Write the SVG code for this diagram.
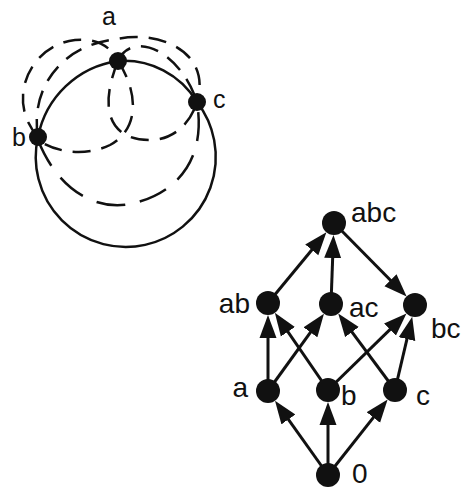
<svg xmlns="http://www.w3.org/2000/svg" width="467" height="488" viewBox="0 0 467 488">
<defs>
<style>
.bg{fill:#fff}
.solid{fill:none;stroke:#111;stroke-width:2.5}
.dash{fill:none;stroke:#111;stroke-width:2.5;stroke-dasharray:18 11}
.dashL{fill:none;stroke:#111;stroke-width:2.5;stroke-dasharray:29 15}
.dot{fill:#111}
.edge{fill:none;stroke:#111;stroke-width:3}
.lbl{font-family:"Liberation Sans",Arial,sans-serif;fill:#111}
.l1{font-size:25px}
.l2{font-size:28px}
</style>
<marker id="arr" markerUnits="userSpaceOnUse" markerWidth="24" markerHeight="18" refX="12" refY="8.5" orient="auto" viewBox="0 0 24 17">
<path d="M0,0 L23,8.5 L0,17 Z" fill="#111"/>
</marker>
</defs>
<rect class="bg" x="0" y="0" width="467" height="488"/>

<!-- Left figure -->
<g id="left-curves">
<path class="solid" d="M38,137 A95,95 0 0 1 118,61"/>
<path class="solid" d="M118,61 A85,85 0 0 1 197,102"/>
<path class="solid" d="M197,102 A90,90 0 1 1 38,137"/>
<path class="dash" d="M38,137 C5,100 30,45 75,40 C95,38 110,45 118,61"/>
<path class="dash" d="M38,137 C30,90 60,45 117,39 C160,30 212,52 197,102"/>
<path class="dash" d="M118,61 C132,30 180,50 197,102"/>
<path class="dash" d="M118,61 C98,110 110,140 150,140 C172,140 190,125 197,102"/>
<path class="dash" d="M118,61 C140,95 138,130 110,145 C90,155 60,155 38,140"/>
<path class="dashL" d="M38,140 C60,195 100,210 130,204 C165,197 208,170 197,102"/>
</g>
<g id="left-a"><circle class="dot" cx="118" cy="61" r="9"/><text class="lbl l1" x="102" y="25">a</text></g>
<g id="left-b"><circle class="dot" cx="38" cy="137" r="9"/><text class="lbl l1" x="26" y="146" text-anchor="end">b</text></g>
<g id="left-c"><circle class="dot" cx="197" cy="102" r="9"/><text class="lbl l1" x="213" y="108">c</text></g>

<!-- Lattice -->
<g id="connectors" class="edge" marker-end="url(#arr)">
<line x1="268" y1="391" x2="268" y2="326"/>
<line x1="268" y1="391" x2="317.5" y2="322.6"/>
<line x1="328" y1="390" x2="281.1" y2="321.9"/>
<line x1="328" y1="390" x2="398.6" y2="321.1"/>
<line x1="395" y1="390" x2="344.8" y2="322.4"/>
<line x1="395" y1="390" x2="409.7" y2="327.4"/>
<line x1="328" y1="475" x2="281.4" y2="409.7"/>
<line x1="328" y1="475" x2="328" y2="413"/>
<line x1="328" y1="475" x2="380.8" y2="408.1"/>
<line x1="268" y1="303" x2="319.4" y2="240.7"/>
<line x1="331" y1="304" x2="333.1" y2="246"/>
<line x1="334" y1="223" x2="398.9" y2="288.7"/>
</g>
<g id="n-abc"><circle class="dot" cx="334" cy="223" r="12"/><text class="lbl l2" x="351" y="222">abc</text></g>
<g id="n-ab"><circle class="dot" cx="268" cy="303" r="12"/><text class="lbl l2" x="250" y="313" text-anchor="end">ab</text></g>
<g id="n-ac"><circle class="dot" cx="331" cy="304" r="12"/><text class="lbl l2" x="349" y="317">ac</text></g>
<g id="n-bc"><circle class="dot" cx="415" cy="305" r="12"/><text class="lbl l2" x="431" y="338">bc</text></g>
<g id="n-a"><circle class="dot" cx="268" cy="391" r="12"/><text class="lbl l2" x="248" y="397" text-anchor="end">a</text></g>
<g id="n-b"><circle class="dot" cx="328" cy="390" r="12"/><text class="lbl l2" x="341" y="405">b</text></g>
<g id="n-c"><circle class="dot" cx="395" cy="390" r="12"/><text class="lbl l2" x="416" y="405">c</text></g>
<g id="n-0"><circle class="dot" cx="328" cy="475" r="12"/><text class="lbl l2" x="352" y="483">0</text></g>
</svg>
